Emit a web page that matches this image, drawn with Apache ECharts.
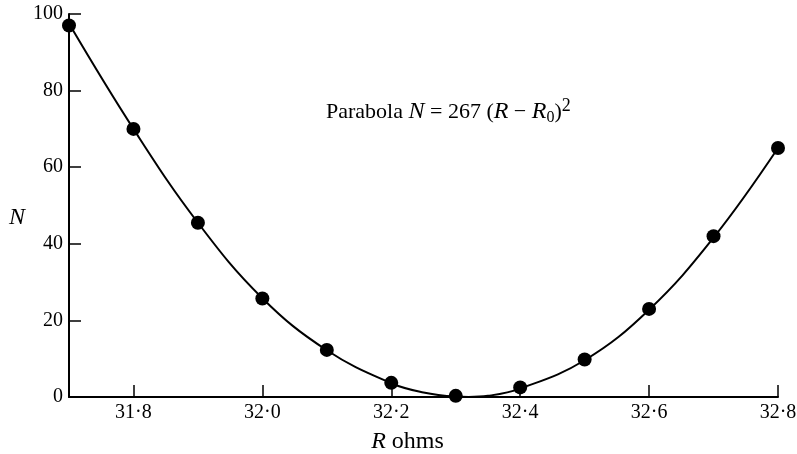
<!DOCTYPE html>
<html>
<head>
<meta charset="utf-8">
<script src="https://cdn.jsdelivr.net/npm/echarts@6/dist/echarts.min.js"></script>
<style>html,body{margin:0;padding:0;background:#fff}#c{width:797px;height:454px}</style>
</head>
<body>
<div id="c"></div>
<script>
const rValues = [31.7, 31.8, 31.9, 32.0, 32.1, 32.2, 32.3, 32.4, 32.5, 32.6, 32.7, 32.8];
const nValues = [97, 70, 45.5, 25.7, 12.3, 3.7, 0.3, 2.5, 9.8, 23, 42, 65];
// Fitted curve points
const curveR = [31.7, 31.8, 31.9, 32.0, 32.1, 32.2, 32.25, 32.3, 32.32, 32.35, 32.4, 32.5, 32.6, 32.7, 32.8];
const curveN = [97.5, 70, 45.5, 25.8, 12.2, 3.6, 1.2, 0.1, 0, 0.3, 2.2, 9.6, 22.8, 41.6, 65];
const xTicks = [31.8, 32.0, 32.2, 32.4, 32.6, 32.8];
const yTicks = [0, 20, 40, 60, 80, 100];

const font = 'Liberation Serif';
const chart = echarts.init(document.getElementById('c'), null, {renderer: 'canvas'});
chart.setOption({
  animation: false,
  backgroundColor: '#fff',
  grid: {left: 69, right: 19, top: 14, bottom: 57, containLabel: false, outerBoundsMode: 'none'},
  xAxis: {
    type: 'value', min: 31.7, max: 32.8, interval: 0.1,
    axisLine: {lineStyle: {color: '#000', width: 2}},
    axisTick: {inside: true, length: 12, lineStyle: {color: '#000', width: 1.5},
      customValues: xTicks},
    axisLabel: {color: '#000', fontFamily: font, fontSize: 20, margin: 6,
      customValues: xTicks,
      formatter: v => v.toFixed(1).replace('.', '\u00b7')},
    splitLine: {show: false},
    name: '{i|R} ohms', nameLocation: 'middle', nameGap: 33,
    nameTextStyle: {color: '#000', fontFamily: font, fontSize: 24, padding: [0, 32, 0, 0],
      rich: {i: {fontStyle: 'italic', fontFamily: font, fontSize: 24, color: '#000'}}}
  },
  yAxis: {
    type: 'value', min: 0, max: 100, interval: 20,
    axisLine: {show: true, lineStyle: {color: '#000', width: 2}},
    axisTick: {show: true, inside: true, length: 12, lineStyle: {color: '#000', width: 1.5},
      customValues: yTicks},
    axisLabel: {color: '#000', fontFamily: font, fontSize: 20, margin: 6, customValues: yTicks},
    splitLine: {show: false},
    name: 'N', nameLocation: 'middle', nameGap: 44, nameRotate: 0,
    nameTextStyle: {color: '#000', fontFamily: font, fontSize: 24, fontStyle: 'italic',
      verticalAlign: 'top', padding: [0, 0, 0, 0]}
  },
  series: [
    {
      type: 'line', data: curveR.map((r, i) => [r, curveN[i]]),
      smooth: 0.4, showSymbol: false, lineStyle: {color: '#000', width: 2}, z: 2
    },
    {
      type: 'scatter', data: rValues.map((r, i) => [r, nValues[i]]),
      symbol: 'circle', symbolSize: 14, itemStyle: {color: '#000', opacity: 1}, z: 3
    }
  ],
  graphic: [{
    type: 'text', left: 326, top: 97,
    style: {
      text: 'Parabola {i|N} = 267 ({i|R} \u2212 {i|R}{s|0}){p|2}',
      fontFamily: font, fontSize: 22, fill: '#000',
      rich: {
        i: {fontStyle: 'italic', fontFamily: font, fontSize: 24},
        s: {fontFamily: font, fontSize: 16, padding: [12, 0, 0, 0]},
        p: {fontFamily: font, fontSize: 18, padding: [0, 0, 12, 0]}
      }
    }
  }]
});
</script>
</body>
</html>
